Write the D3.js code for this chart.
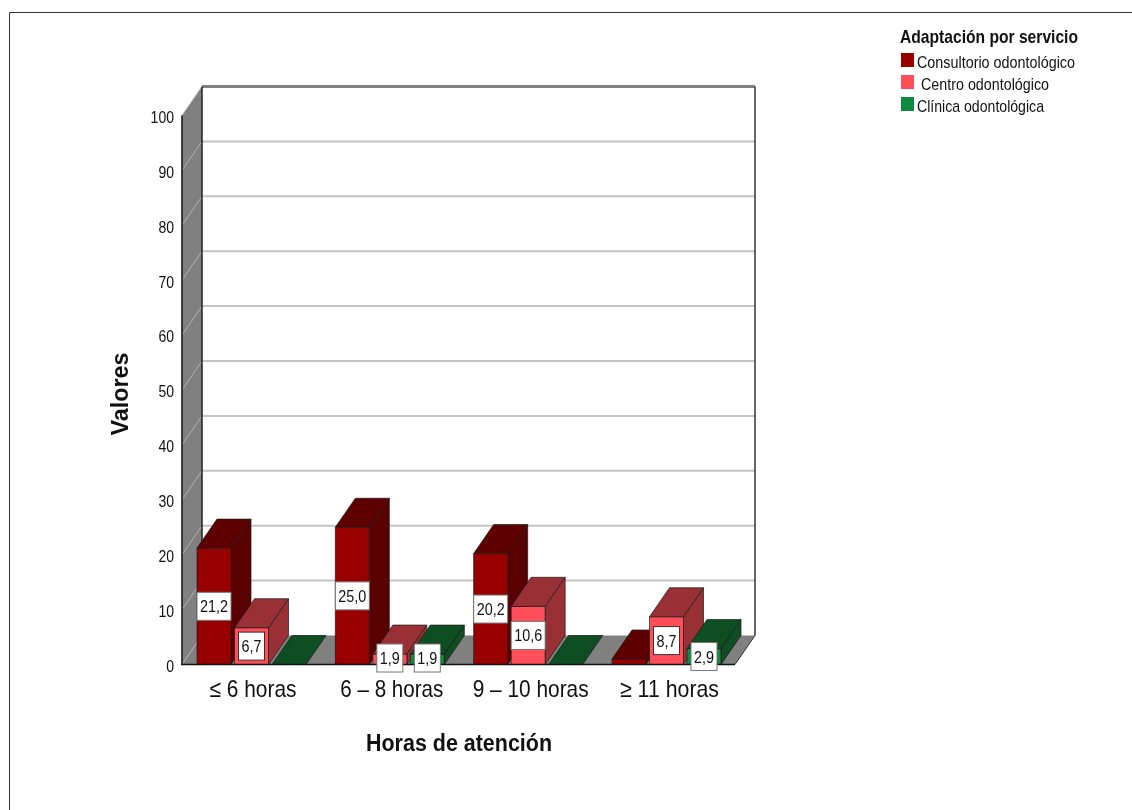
<!DOCTYPE html>
<html><head><meta charset="utf-8">
<script src="https://cdnjs.cloudflare.com/ajax/libs/d3/7.8.5/d3.min.js"></script>
<style>html,body{margin:0;padding:0;background:#fff}svg{display:block;filter:blur(0.4px)}text{font-family:"Liberation Sans",Arial,sans-serif;fill:#111}</style>
</head><body><svg id="c" width="1132" height="810"></svg>
<script>
const categories = ["≤ 6 horas","6 – 8 horas","9 – 10 horas","≥ 11 horas"];
const seriesNames = ["Consultorio odontológico","Centro odontológico","Clínica odontológica"];
const consultorio = [21.2,25.0,20.2,1.0];
const centro = [6.7,1.9,10.6,8.7];
const clinica = [0,1.9,0,2.9];
const yTicks = [0,10,20,30,40,50,60,70,80,90,100];
const colors = [
 {front:"#990000",top:"#5f0000",side:"#5a0000"},
 {front:"#ff4d5a",top:"#993035",side:"#993035"},
 {front:"#0f8a3e",top:"#0f4d22",side:"#0f4d22"}];
const series=[consultorio,centro,clinica];

const svg=d3.select("#c");
const dx=20,dy=-29;
const y=d3.scaleLinear().domain([0,100]).range([664.5,115.5]);
const xg=d3.scalePoint().domain(categories).range([197,612]);
const xb=d3.scaleBand().domain([0,1,2]).range([0,109]).paddingInner(0.093).paddingOuter(0);
const poly=p=>p.map(d=>d.join(",")).join(" ");

// frame
svg.append("path").attr("d","M9.5,810V12.5H1132").attr("fill","none").attr("stroke","#333").attr("stroke-width",1);

const x1=182,x2=735,y0=y(0),yT=y(100);
svg.append("rect").attr("x",x1+dx).attr("y",yT+dy).attr("width",x2-x1).attr("height",y0-yT).attr("fill","#fff");
svg.append("polygon").attr("points",poly([[x1,y0],[x1+dx,y0+dy],[x1+dx,yT+dy],[x1,yT]])).attr("fill","#808080");
svg.append("polygon").attr("points",poly([[x1,y0],[x2,y0],[x2+dx,y0+dy],[x1+dx,y0+dy]])).attr("fill","#808080");
const g=svg.append("g");
yTicks.forEach(t=>{
  if(t>0&&t<100) g.append("line").attr("x1",x1+dx).attr("x2",x2+dx).attr("y1",y(t)+dy).attr("y2",y(t)+dy).attr("stroke","#c4c4c4").attr("stroke-width",2);
  g.append("line").attr("x1",x1).attr("x2",x1+dx).attr("y1",y(t)).attr("y2",y(t)+dy).attr("stroke","#b0b0b0").attr("stroke-width",1);
});
g.append("line").attr("x1",x1+dx).attr("x2",x2+dx).attr("y1",yT+dy).attr("y2",yT+dy).attr("stroke","#808080").attr("stroke-width",3);
g.append("line").attr("x1",x1+dx).attr("x2",x1+dx).attr("y1",yT+dy).attr("y2",y0+dy).attr("stroke","#222").attr("stroke-width",1.5);
g.append("line").attr("x1",x2+dx).attr("x2",x2+dx).attr("y1",yT+dy).attr("y2",y0+dy).attr("stroke","#333").attr("stroke-width",1.5);
g.append("line").attr("x1",x2).attr("x2",x2+dx).attr("y1",y0).attr("y2",y0+dy).attr("stroke","#333");
g.append("line").attr("x1",x1).attr("x2",x1).attr("y1",yT).attr("y2",y0).attr("stroke","#111").attr("stroke-width",1.5);

// bars
const bw=xb.bandwidth();
categories.forEach((c,i)=>{
  series.forEach((s,k)=>{
    const v=s[i],l=xg(c)+xb(k),r=l+bw,t=y(v),col=colors[k];
    const bar=svg.append("g").attr("stroke","#1a1a1a").attr("stroke-width",.7).attr("stroke-linejoin","round");
    if(v>0){
      bar.append("polygon").attr("points",poly([[r,y0],[r+dx,y0+dy],[r+dx,t+dy],[r,t]])).attr("fill",col.side);
      bar.append("rect").attr("x",l).attr("y",t).attr("width",bw).attr("height",y0-t).attr("fill",col.front);
    }
    bar.append("polygon").attr("points",poly([[l,t],[r,t],[r+dx,t+dy],[l+dx,t+dy]])).attr("fill",col.top);
  });
});
svg.append("line").attr("x1",x1-1).attr("x2",x2).attr("y1",y0).attr("y2",y0).attr("stroke","#111").attr("stroke-width",1.5);

// value labels
const fmt=d3.formatLocale({decimal:",",thousands:".",grouping:[3],currency:["",""]}).format(".1f");
categories.forEach((c,i)=>{
  series.forEach((s,k)=>{
    const v=s[i]; if(v<1.5) return;
    const txt=fmt(v),w=txt.length>3?34:26,cx=xg(c)+xb(k)+bw/2,cy=Math.min((y(v)+y0)/2,658);
    const dark=k===1&&(v===6.7||v===8.7);
    svg.append("rect").attr("x",cx-w/2).attr("y",cy-14).attr("width",w).attr("height",28).attr("fill","#fff").attr("stroke",dark?"#333":"#777").attr("stroke-width",1);
    svg.append("text").attr("x",cx).attr("y",cy+6).attr("text-anchor","middle").attr("font-size",17)
      .attr("textLength",txt.length>3?28:20).attr("lengthAdjust","spacingAndGlyphs").text(txt);
  });
});

// axes
const ya=svg.append("g").attr("transform",`translate(${x1-6},0)`).call(d3.axisLeft(y).tickValues(yTicks).tickSize(0).tickPadding(2));
ya.select(".domain").remove();
ya.selectAll("text").attr("font-size",17).style("font-family",'"Liberation Sans"').attr("fill","#111")
  .attr("dy","0.4em").each(function(d){d3.select(this).attr("textLength",String(d).length*7.8).attr("lengthAdjust","spacingAndGlyphs");});

const xa=svg.append("g").attr("transform",`translate(0,${y0+15})`).call(
  d3.axisBottom(d3.scalePoint().domain(categories).range([252.5,669])).tickSize(0).tickPadding(0));
xa.select(".domain").remove();
const xlen=[87,103,116,99];
xa.selectAll("text").attr("font-size",24).style("font-family",'"Liberation Sans"').attr("fill","#333").attr("y",0).attr("dy","0.72em")
  .each(function(d,i){d3.select(this).attr("textLength",xlen[i]).attr("lengthAdjust","spacingAndGlyphs");});

svg.append("text").attr("x",459).attr("y",751).attr("text-anchor","middle").attr("font-weight","bold").attr("font-size",23)
  .attr("textLength",186).attr("lengthAdjust","spacingAndGlyphs").text("Horas de atención");
svg.append("text").attr("transform","translate(128,394) rotate(-90)").attr("text-anchor","middle").attr("font-weight","bold").attr("font-size",23)
  .attr("textLength",83).attr("lengthAdjust","spacingAndGlyphs").text("Valores");

// legend
svg.append("text").attr("x",900).attr("y",43).attr("font-weight","bold").attr("font-size",19)
  .attr("textLength",178).attr("lengthAdjust","spacingAndGlyphs").text("Adaptación por servicio");
const legY=d3.scalePoint().domain(seriesNames).range([53,97]);
const legX=[917,921,917],legW=[158,128,127];
seriesNames.forEach((n,i)=>{
  svg.append("rect").attr("x",901).attr("y",legY(n)).attr("width",13).attr("height",14).attr("fill",colors[i].front);
  svg.append("text").attr("x",legX[i]).attr("y",legY(n)+15).attr("font-size",17).attr("fill","#222")
    .attr("textLength",legW[i]).attr("lengthAdjust","spacingAndGlyphs").text(n);
});
</script></body></html>
